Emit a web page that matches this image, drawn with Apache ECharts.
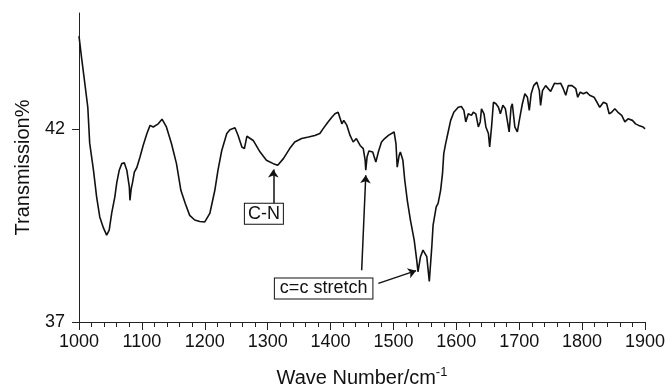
<!DOCTYPE html>
<html>
<head>
<meta charset="utf-8">
<script src="https://cdn.jsdelivr.net/npm/echarts@6/dist/echarts.min.js"></script>
<style>
  html, body { margin: 0; padding: 0; background: #fff; }
  #chart { width: 668px; height: 389px; }
</style>
</head>
<body>
<div id="chart"></div>
<script>
// wave number (cm-1)
const waveNumbers = [
  1000, 1004, 1008, 1014, 1017, 1023, 1028, 1033, 1039, 1044, 1048, 1052, 1057, 1060, 1064,
  1068, 1072, 1076, 1080, 1081, 1082, 1083, 1085, 1088, 1092, 1097, 1102, 1108, 1113, 1118,
  1121, 1126, 1132, 1139, 1147, 1155, 1162, 1169, 1176, 1184, 1192, 1200, 1208, 1216, 1221,
  1227, 1235, 1240, 1248, 1253, 1259, 1263, 1267, 1270, 1277, 1288, 1298, 1309, 1316, 1325,
  1335, 1343, 1354, 1365, 1375, 1383, 1388, 1391, 1396, 1402, 1407, 1412, 1418, 1421, 1426,
  1431, 1436, 1441, 1447, 1452, 1455, 1456, 1458, 1461, 1467, 1472, 1476, 1481, 1486, 1492,
  1495, 1501, 1504, 1506, 1509, 1511, 1515, 1518, 1522, 1527, 1533, 1537, 1539, 1543, 1547,
  1553, 1557, 1559, 1561, 1563, 1568, 1571, 1575, 1578, 1580, 1583, 1587, 1591, 1596, 1603,
  1608, 1612, 1615, 1619, 1624, 1627, 1631, 1635, 1638, 1640, 1644, 1647, 1651, 1653, 1656,
  1659, 1663, 1667, 1670, 1674, 1678, 1681, 1684, 1687, 1689, 1693, 1697, 1701, 1705, 1709,
  1713, 1716, 1719, 1723, 1728, 1732, 1734, 1737, 1742, 1745, 1750, 1756, 1761, 1766, 1770,
  1774, 1778, 1784, 1790, 1793, 1797, 1802, 1807, 1812, 1819, 1825, 1828, 1834, 1839, 1843,
  1847, 1852, 1857, 1863, 1868, 1873, 1880, 1885, 1890, 1897, 1900
];
// transmission % at each wave number
const transmission = [
  44.4, 43.85, 43.34, 42.56, 41.63, 40.93, 40.24, 39.72, 39.43, 39.25, 39.38, 39.82, 40.24, 40.6, 40.93,
  41.1, 41.12, 40.93, 40.5, 40.15, 40.15, 40.45, 40.6, 40.88, 41.0, 41.27, 41.57, 41.88, 42.09, 42.05,
  42.0, 42.13, 42.25, 42.05, 41.62, 41.1, 40.41, 40.07, 39.76, 39.64, 39.6, 39.59, 39.81, 40.41, 40.93,
  41.44, 41.88, 41.98, 42.03, 41.83, 41.53, 41.49, 41.81, 41.86, 41.7, 41.4, 41.19, 41.1, 41.06, 41.23,
  41.49, 41.66, 41.75, 41.79, 41.83, 41.88, 42.0, 42.02, 42.18, 42.3, 42.39, 42.43, 42.13, 42.22, 42.09,
  41.83, 41.66, 41.75, 41.57, 41.49, 41.19, 40.93, 41.27, 41.43, 41.4, 41.14, 41.4, 41.66, 41.75, 41.83,
  41.79, 41.92, 41.62, 41.01, 41.31, 41.4, 41.19, 40.67, 40.15, 39.64, 39.12, 38.6, 38.3, 38.69, 38.86,
  38.69, 38.05, 38.1, 38.95, 39.5, 39.98, 40.07, 40.41, 40.84, 41.36, 41.62, 41.92, 42.22, 42.43, 42.56,
  42.58, 42.48, 42.18, 42.39, 42.35, 42.43, 42.39, 42.05, 42.18, 42.52, 42.39, 42.05, 41.88, 41.53, 42.05,
  42.69, 42.65, 42.56, 42.39, 42.61, 42.52, 42.22, 41.92, 42.56, 42.65, 42.05, 41.92, 42.3, 42.65, 42.91,
  42.82, 42.48, 42.91, 43.12, 43.21, 42.99, 42.61, 42.99, 43.12, 43.08, 42.97, 43.18, 43.17, 43.18, 43.04,
  42.87, 43.12, 43.12, 43.04, 42.82, 42.95, 42.91, 42.95, 42.87, 42.82, 42.65, 42.56, 42.69, 42.65, 42.39,
  42.43, 42.52, 42.43, 42.35, 42.18, 42.26, 42.22, 42.13, 42.09, 42.05, 42.0
];
const yTickValues = [37, 42];

// annotation boxes: [label, wave number, transmission]
const boxLabels = [
  ['C-N', 1294, 39.8],
  ['c=c stretch', 1389, 37.87]
];
// arrows: [from wn, from T, to wn, to T]
const arrows = [
  [1309, 40.07, 1309, 40.95],
  [1449.5, 38.34, 1456, 40.8],
  [1476, 38.0, 1536, 38.33]
];

const font = '"Liberation Sans", Arial, sans-serif';
const chart = echarts.init(document.getElementById('chart'));

chart.setOption({
  animation: false,
  grid: { left: 79, right: 23, top: 13, bottom: 67, outerBoundsMode: 'none' },
  xAxis: {
    type: 'value',
    min: 1000,
    max: 1900,
    interval: 100,
    name: '{a|Wave Number/cm}{b|-1}',
    nameLocation: 'middle',
    nameGap: 44,
    nameTextStyle: {
      rich: {
        a: { fontSize: 20, fontFamily: font, color: '#111' },
        b: { fontSize: 13, fontFamily: font, color: '#111', padding: [0, 0, 12, 0] }
      }
    },
    axisLine: { lineStyle: { color: '#222', width: 1 } },
    axisTick: { length: 8, lineStyle: { color: '#222' } },
    minorTick: { show: true, splitNumber: 5, length: 5, lineStyle: { color: '#222' } },
    axisLabel: { fontSize: 18, fontFamily: font, color: '#111', margin: 11, formatter: v => String(v) },
    splitLine: { show: false }
  },
  yAxis: {
    type: 'value',
    min: 37,
    max: 45,
    name: 'Transmission%',
    nameLocation: 'middle',
    nameGap: 46,
    nameTextStyle: { fontSize: 20, fontFamily: font, color: '#111' },
    axisLine: { show: true, lineStyle: { color: '#222', width: 1 } },
    axisTick: { show: true, length: 7, customValues: yTickValues, lineStyle: { color: '#222' } },
    axisLabel: { fontSize: 18, fontFamily: font, color: '#111', margin: 14, customValues: yTickValues },
    splitLine: { show: false }
  },
  series: [
    {
      type: 'line',
      data: waveNumbers.map((w, i) => [w, transmission[i]]),
      showSymbol: false,
      lineStyle: { color: '#111', width: 1.6 },
      markLine: {
        silent: true,
        symbol: ['none', 'arrow'],
        symbolSize: 8,
        label: { show: false },
        lineStyle: { color: '#111', width: 1.5, type: 'solid' },
        data: arrows.map(a => [{ coord: [a[0], a[1]] }, { coord: [a[2], a[3]] }])
      },
      markPoint: {
        silent: true,
        symbol: 'rect',
        symbolSize: 1,
        itemStyle: { color: 'rgba(0,0,0,0)' },
        label: {
          show: true,
          position: 'inside',
          fontSize: 18,
          fontFamily: font,
          color: '#111',
          backgroundColor: '#fff',
          borderColor: '#111',
          borderWidth: 1,
          lineHeight: 18,
          formatter: p => p.name
        },
        data: boxLabels.map(b => ({
          name: b[0],
          coord: [b[1], b[2]],
          label: { padding: b[0] === 'C-N' ? [1, 3, 1, 3] : [1, 5, 1, 5] }
        }))
      }
    }
  ]
});
</script>
</body>
</html>
